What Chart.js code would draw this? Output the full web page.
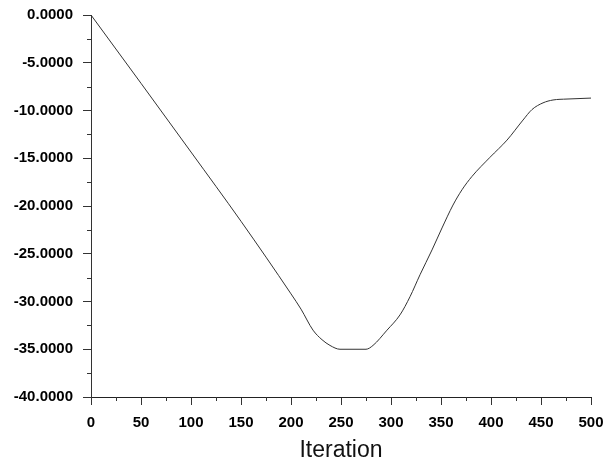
<!DOCTYPE html>
<html>
<head>
<meta charset="utf-8">
<script src="https://cdn.jsdelivr.net/npm/chart.js@4/dist/chart.umd.min.js"></script>
<style>
    html, body { margin: 0; padding: 0; background: #fff; }
    #wrap { width: 605px; height: 464px; }
</style>
</head>
<body>
<div id="wrap"><canvas id="chart"></canvas></div>
<script>
// Data
const iterations = [0, 50, 100, 150, 200, 210, 222, 231, 239, 249, 275, 282, 296, 309, 319, 329, 341, 351, 362, 371, 381, 399, 416, 432, 441, 452, 462, 476, 500];
const values = [0, -7.15, -14.35, -21.6, -29.2, -30.8, -33.0, -34.0, -34.6, -35.0, -35.0, -34.6, -33.0, -31.4, -29.5, -27.2, -24.6, -22.3, -19.9, -18.3, -16.9, -14.9, -13.1, -11.0, -9.9, -9.2, -8.9, -8.8, -8.7];

const xTicks = { min: 0, max: 500, step: 50 };
const yTicks = { min: -40, max: 0, step: 5 };

const FONT = 'Liberation Sans, Arial, sans-serif';

// short minor tick marks halfway between the major ones
const minorTicks = {
    id: 'minorTicks',
    afterDraw(chart) {
        const ctx = chart.ctx;
        const xs = chart.scales.x;
        const ys = chart.scales.y;
        ctx.save();
        ctx.strokeStyle = '#333';
        ctx.lineWidth = 1;
        ctx.beginPath();
        for (let i = 0; i < xs.ticks.length - 1; i++) {
            const v = (xs.ticks[i].value + xs.ticks[i + 1].value) / 2;
            const px = Math.round(xs.getPixelForValue(v)) + 0.5;
            ctx.moveTo(px, xs.top);
            ctx.lineTo(px, xs.top + 4);
        }
        for (let i = 0; i < ys.ticks.length - 1; i++) {
            const v = (ys.ticks[i].value + ys.ticks[i + 1].value) / 2;
            const py = Math.round(ys.getPixelForValue(v)) + 0.5;
            ctx.moveTo(ys.right, py);
            ctx.lineTo(ys.right - 4, py);
        }
        ctx.stroke();
        ctx.restore();
    }
};

new Chart(document.getElementById('chart'), {
    type: 'line',
    data: {
        datasets: [{
            data: iterations.map((it, i) => ({ x: it, y: values[i] })),
            borderColor: '#333',
            borderWidth: 1,
            pointRadius: 0,
            cubicInterpolationMode: 'monotone',
            fill: false
        }]
    },
    options: {
        responsive: true,
        maintainAspectRatio: false,
        animation: false,
        layout: { padding: { left: 0, right: 14, top: 15, bottom: 0 } },
        plugins: { legend: { display: false }, tooltip: { enabled: false } },
        scales: {
            x: {
                type: 'linear',
                min: xTicks.min,
                max: xTicks.max,
                afterFit: s => { s.height = 67; s.paddingLeft = 0; s.paddingRight = 0; },
                grid: { drawOnChartArea: false, tickLength: 8, color: '#333' },
                border: { color: '#222', width: 1 },
                ticks: {
                    stepSize: xTicks.step,
                    padding: 9,
                    maxRotation: 0,
                    color: '#000',
                    font: { family: FONT, size: 15, weight: 'bold' }
                },
                title: {
                    display: true,
                    text: 'Iteration',
                    color: '#111',
                    font: { family: FONT, size: 23 },
                    padding: { top: 0, bottom: 0 }
                }
            },
            y: {
                min: yTicks.min,
                max: yTicks.max,
                afterFit: s => { s.width = 91; s.paddingTop = 0; s.paddingBottom = 0; },
                grid: { drawOnChartArea: false, tickLength: 8, color: '#333' },
                border: { color: '#333', width: 1 },
                ticks: {
                    stepSize: yTicks.step,
                    padding: 10,
                    color: '#000',
                    font: { family: FONT, size: 15, weight: 'bold' },
                    callback: v => (v === 0 ? 0 : v).toFixed(4)
                }
            }
        }
    },
    plugins: [minorTicks]
});
</script>
</body>
</html>
